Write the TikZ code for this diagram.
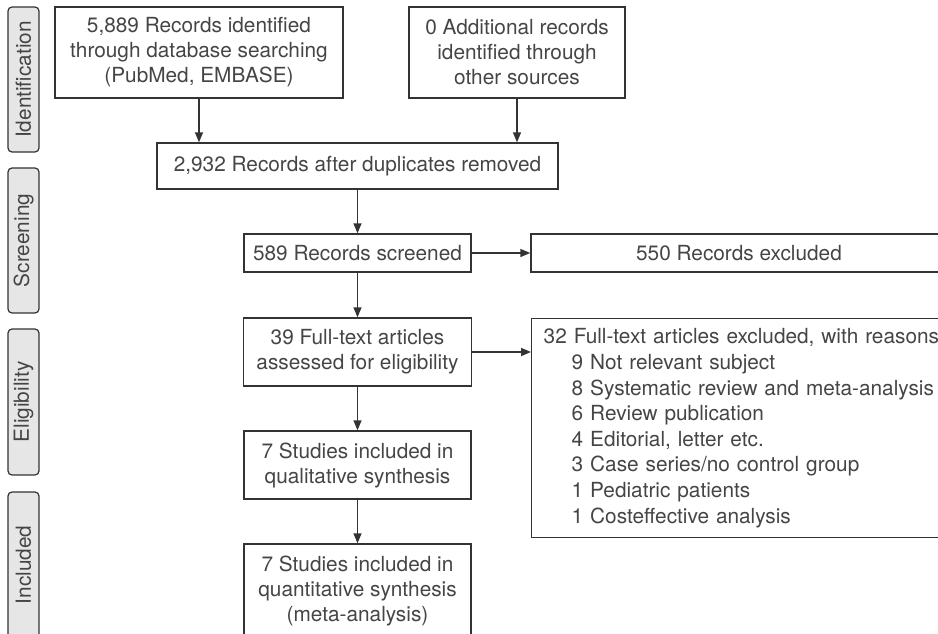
\documentclass[tikz,border=0pt]{standalone}
\usepackage{fontspec}
\setmainfont{TeX Gyre Heros}
\usetikzlibrary{arrows.meta}
\definecolor{ink}{HTML}{333333}
\definecolor{txt}{HTML}{454545}
\definecolor{stagefill}{HTML}{E6E6E6}
\begin{document}
\begin{tikzpicture}[x=1pt,y=1pt,
  box/.style={draw=ink, line width=1.4pt, inner sep=0pt, align=center,
    text=txt, font=\fontsize{20.8}{25}\selectfont},
  stage/.style={draw=ink, fill=stagefill, line width=1.2pt, rounded corners=4pt,
    inner sep=0pt, rotate=90,
    text=txt, font=\fontsize{20.8}{23}\selectfont},
  arr/.style={draw=ink, line width=1.4pt, -{Triangle[length=10pt,width=8pt]}}]
\useasboundingbox (0,0) rectangle (938,-634);
\clip (0,0) rectangle (938,-634);

% stage labels
\node[stage, minimum width=145pt, minimum height=31pt] (sid) at (23.5,-79.5) {Identification};
\node[stage, minimum width=145pt, minimum height=31pt] (ssc) at (23.5,-240.5) {Screening};
\node[stage, minimum width=146pt, minimum height=31pt] (sel) at (23.5,-402) {Eligibility};
\node[stage, minimum width=146pt, minimum height=31pt] (sin) at (23.5,-565) {Included};

% boxes
\node[box, minimum width=288pt, minimum height=91pt] (b1) at (199,-52.5)
  {5,889 Records identified\\through database searching\\(PubMed, EMBASE)};
\node[box, minimum width=216pt, minimum height=91pt] (b2) at (517,-52.5)
  {0 Additional records\\identified through\\other sources};
\node[box, minimum width=401pt, minimum height=46pt] (b3) at (357.5,-166)
  {2,932 Records after duplicates removed};
\node[box, minimum width=227pt, minimum height=38pt] (b4) at (357.5,-253)
  {589 Records screened};
\node[box, minimum width=440pt, minimum height=38pt] (b5) at (751,-253)
  {550 Records excluded\hspace*{24pt}};
\node[box, minimum width=228pt, minimum height=68pt] (b6) at (357.5,-352)
  {39 Full-text articles\\assessed for eligibility};
\node[box, anchor=north west, minimum height=219pt, text width=430pt,
  inner xsep=12pt, align=left, font=\fontsize{20.8}{25.6}\selectfont] (b7) at (531,-318)
  {32 Full-text articles excluded, with reasons\\
   \hspace*{28pt}9 Not relevant subject\\
   \hspace*{28pt}8 Systematic review and meta-analysis\\
   \hspace*{28pt}6 Review publication\\
   \hspace*{28pt}4 Editorial, letter etc.\\
   \hspace*{28pt}3 Case series/no control group\\
   \hspace*{28pt}1 Pediatric patients\\
   \hspace*{28pt}1 Costeffective analysis};
\node[box, minimum width=227pt, minimum height=68pt] (b8) at (357.5,-465)
  {7 Studies included in\\qualitative synthesis};
\node[box, minimum width=227pt, minimum height=94pt] (b9) at (357.5,-591)
  {7 Studies included in\\quantitative synthesis\\(meta-analysis)};

% connectors
\draw[arr] (b1.south) -- (b1.south |- b3.north);
\draw[arr] (b2.south) -- (b2.south |- b3.north);
\draw[arr] (b3.south) -- (b4.north);
\draw[arr] (b4.east) -- (b5.west);
\draw[arr] (b4.south) -- (b6.north);
\draw[arr] (b6.east) -- (b6.east -| b7.west);
\draw[arr] (b6.south) -- (b8.north);
\draw[arr] (b8.south) -- (b9.north);
\end{tikzpicture}
\end{document}
